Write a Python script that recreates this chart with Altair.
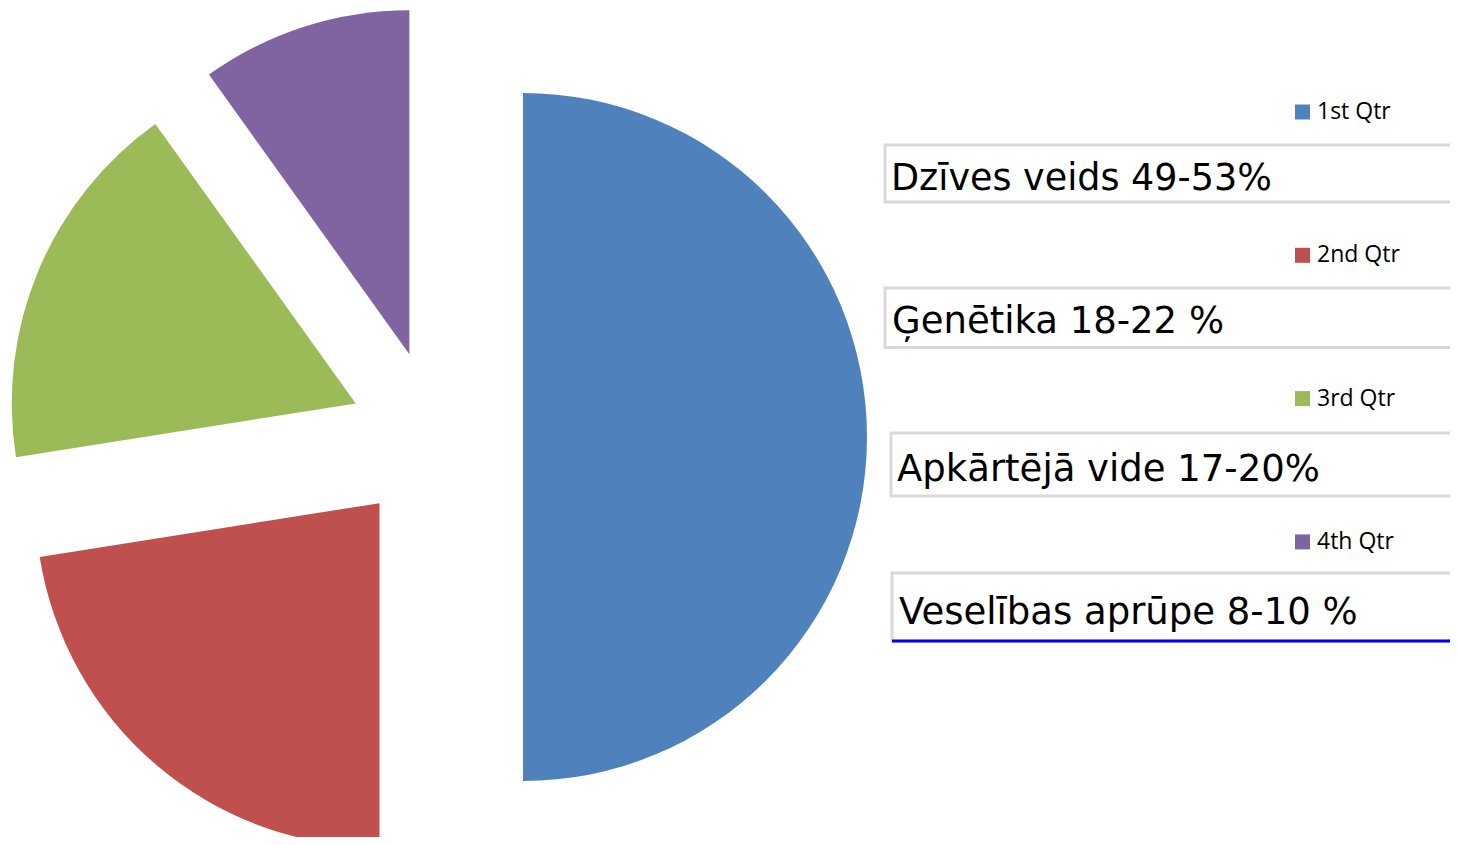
import altair as alt
import pandas as pd

# ---- data ----
series = ["1st Qtr", "2nd Qtr", "3rd Qtr", "4th Qtr"]
shares = [50.0, 22.5, 17.6, 9.9]
colors = ["#4F81BD", "#C0504D", "#9BBB59", "#8064A2"]
box_labels = [
    "Dzīves veids 49-53%",
    "Ģenētika 18-22 %",
    "Apkārtējā vide 17-20%",
    "Veselības aprūpe 8-10 %",
]

# ---- layout (pixels) ----
CX, CY, R, EXPLODE = 428, 429, 344, 87
box_x1 = [877, 877, 883, 884]
box_y1 = [137, 280, 425, 565]
box_y2 = [194, 339.5, 488, 633]
text_x = [883, 884, 889, 891]
text_y = [182, 325, 473, 616]
text_size = [36.5, 37, 37, 37]
BOX_X2 = 1460

pie_df = pd.DataFrame({"series": series, "share": shares, "order": list(range(len(series)))})

pie = (
    alt.Chart(pie_df)
    .transform_window(cum="sum(share)", sort=[alt.SortField("order")], frame=[None, 0])
    .transform_joinaggregate(total="sum(share)")
    .transform_calculate(
        start="(datum.cum - datum.share) / datum.total * 2 * PI",
        end="datum.cum / datum.total * 2 * PI",
    )
    .transform_calculate(mid="(datum.start + datum.end) / 2")
    .transform_calculate(
        cx=f"{CX} + {EXPLODE} * sin(datum.mid)",
        cy=f"{CY} - {EXPLODE} * cos(datum.mid)",
    )
    .mark_arc(radius=R, strokeWidth=0)
    .encode(
        theta=alt.Theta("start:Q", scale=None),
        theta2="end:Q",
        x=alt.X("cx:Q", scale=None, axis=None),
        y=alt.Y("cy:Q", scale=None, axis=None),
        color=alt.Color(
            "series:N",
            scale=alt.Scale(domain=series, range=colors),
            legend=alt.Legend(
                title=None,
                orient="none",
                legendX=1283,
                legendY=92.5,
                symbolType="square",
                symbolSize=225,
                symbolStrokeWidth=0,
                labelFont="Open Sans",
                labelFontSize=23,
                labelColor="#000000",
                labelOffset=3,
                rowPadding=119.3,
                padding=0,
            ),
        ),
    )
)

box_df = pd.DataFrame({
    "label": box_labels,
    "x1": box_x1,
    "x2": [BOX_X2] * 4,
    "y1": box_y1,
    "y2": box_y2,
    "tx": text_x,
    "ty": text_y,
    "size": text_size,
})

boxes = alt.Chart(box_df).mark_rect(fill="white", stroke="#D9D9D9", strokeWidth=3).encode(
    x=alt.X("x1:Q", scale=None, axis=None),
    x2="x2:Q",
    y=alt.Y("y1:Q", scale=None, axis=None),
    y2="y2:Q",
)

underline = alt.Chart(box_df.iloc[[3]]).mark_rule(color="#0000FF", strokeWidth=3).encode(
    x=alt.X("x1:Q", scale=None, axis=None),
    x2=alt.value(1448),
    y=alt.Y("y2:Q", scale=None, axis=None),
)

texts = alt.Chart(box_df).mark_text(
    font="DejaVu Sans", align="left", baseline="alphabetic", color="#000000"
).encode(
    x=alt.X("tx:Q", scale=None, axis=None),
    y=alt.Y("ty:Q", scale=None, axis=None),
    text="label:N",
    size=alt.Size("size:Q", scale=None, legend=None),
)

chart = (
    alt.layer(pie, boxes, underline, texts)
    .properties(width=1442, height=829, padding=0, autosize="none")
    .configure_view(stroke=None)
)

chart.save("out.html", embed_options={"renderer": "svg", "actions": False})
